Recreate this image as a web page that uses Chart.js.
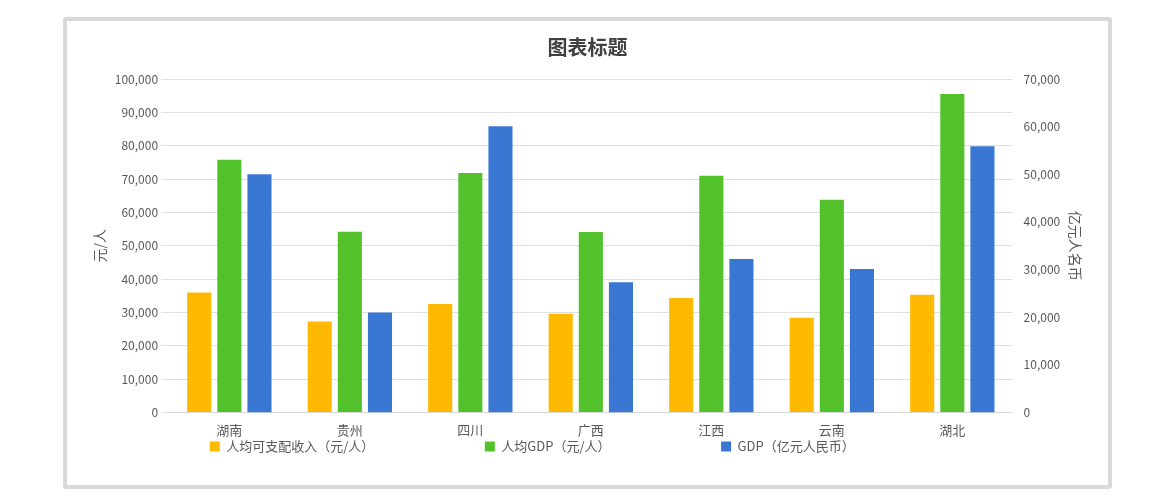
<!DOCTYPE html>
<html><head><meta charset="utf-8">
<script src="https://cdn.jsdelivr.net/npm/chart.js@4"></script>
<style>
body{margin:0;background:#fff;}
#frame{position:absolute;left:63px;top:17px;width:1041px;height:464px;border:4px solid #d9d9d9;border-radius:3px;background:#fff;}
#c{position:absolute;left:0;top:0;}
</style></head><body>
<div id="frame"><canvas id="c" width="1041" height="464"></canvas></div>
<script>
const categories=["湖南","贵州","四川","广西","江西","云南","湖北"];
const income=[36000,27300,32500,29600,34300,28400,35300];
const gdpPer=[75800,54200,71800,54100,71000,63800,95500];
const gdp=[50000,21000,60100,27300,32200,30100,55900];
const font="'Noto Sans CJK SC','Microsoft YaHei',sans-serif";
Chart.defaults.font.family=font;
Chart.defaults.color="#595959";
new Chart(document.getElementById('c'),{
type:'bar',
data:{labels:categories,datasets:[
{label:"人均可支配收入（元/人）",data:income,backgroundColor:"#FFB900",yAxisID:'y'},
{label:"人均GDP（元/人）",data:gdpPer,backgroundColor:"#52C12B",yAxisID:'y'},
{label:"GDP（亿元人民币）",data:gdp,backgroundColor:"#3A77D3",yAxisID:'y1'}]},
options:{responsive:false,animation:false,
layout:{padding:{left:20,right:20,top:8,bottom:22}},
datasets:{bar:{categoryPercentage:0.75,barPercentage:0.8}},
plugins:{
title:{display:true,text:"图表标题",font:{size:20,weight:'bold'},color:"#404040",padding:{top:6,bottom:20}},
legend:{position:'bottom',labels:{boxWidth:10,boxHeight:10,padding:0,font:{size:13},color:"#595959",
 generateLabels(ch){return Chart.defaults.plugins.legend.labels.generateLabels(ch).map(l=>{l.text=l.text+"　　　　　　　　　";return l;});}}},
tooltip:{enabled:false}},
scales:{
x:{grid:{display:false},border:{color:"#d9d9d9"},ticks:{font:{size:13},color:"#595959",padding:2}},
y:{min:0,max:100000,ticks:{stepSize:10000,font:{size:12}},grid:{color:"#e0e0e0"},border:{display:false},
 title:{display:true,text:"元/人",font:{size:14}}},
y1:{position:'right',min:0,max:70000,ticks:{stepSize:10000,font:{size:12}},grid:{display:false},border:{display:false},
 title:{display:true,text:"亿元人名币",font:{size:14}}}
}}});
</script></body></html>
